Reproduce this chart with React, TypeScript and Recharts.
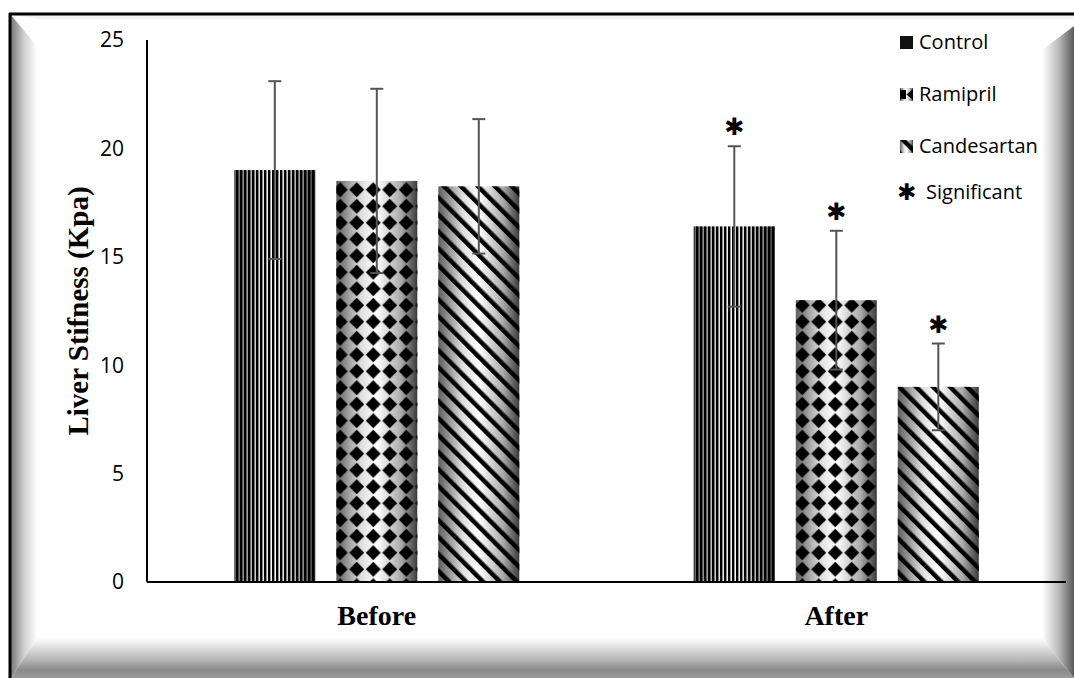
import React from 'react';
import { BarChart, Bar, XAxis, YAxis, ErrorBar, Legend, LabelList } from 'recharts';

const categories = ['Before', 'After'];
const controlMean = [19.0, 16.4];
const controlSD = [4.1, 3.7];
const ramiprilMean = [18.5, 13.0];
const ramiprilSD = [4.25, 3.2];
const candesartanMean = [18.25, 9.0];
const candesartanSD = [3.1, 2.0];
const significant = [false, true];
const yTicks = [0, 5, 10, 15, 20, 25];

const data = categories.map((c, i) => ({
  name: c,
  control: controlMean[i],
  controlErr: controlSD[i],
  ramipril: ramiprilMean[i],
  ramiprilErr: ramiprilSD[i],
  candesartan: candesartanMean[i],
  candesartanErr: candesartanSD[i],
}));

const W = 1074;
const H = 678;

const makeShape = (patId: string) => (props: any) => {
  const { x, y, width, height } = props;
  if (!height || height <= 0) return <g />;
  return (
    <g>
      <rect x={x} y={y} width={width} height={height} fill="url(#metal)" />
      <rect x={x} y={y} width={width} height={height} fill={`url(#${patId})`} />
    </g>
  );
};

const makeStar = (errKey: string) => (props: any) => {
  const { x, y, width, height, value, index } = props;
  if (!significant[index]) return null;
  const err = (data[index] as any)[errKey];
  const pxPerUnit = height / value;
  const cy = y - err * pxPerUnit - 19;
  return (
    <text
      x={x + width / 2}
      y={cy}
      textAnchor="middle"
      dominantBaseline="central"
      fontFamily="DejaVu Sans"
      fontWeight="bold"
      fontSize={24}
      fill="#000"
    >
      ✱
    </text>
  );
};

const legendItems = [
  { label: 'Control', pat: 'patControlIcon', top: 42 },
  { label: 'Ramipril', pat: 'patRamiprilIcon', top: 94 },
  { label: 'Candesartan', pat: 'patCandesartan', top: 146 },
];

const LegendContent = () => (
  <div style={{ position: 'absolute', left: 0, top: 0, width: 170, height: 0, overflow: 'visible', fontFamily: '"Open Sans", sans-serif', fontSize: 20, color: '#000' }}>
    {legendItems.map((it) => (
      <div key={it.label} style={{ position: 'absolute', left: 2, top: it.top - 13, height: 26, display: 'flex', alignItems: 'center', whiteSpace: 'nowrap' }}>
        <svg width={13} height={13} style={{ marginRight: 6 }}>
          <rect x={0} y={0} width={13} height={13} fill="url(#metal)" />
          <rect x={0} y={0} width={13} height={13} fill={`url(#${it.pat})`} />
        </svg>
        <span style={{ lineHeight: '26px' }}>{it.label}</span>
      </div>
    ))}
    <div style={{ position: 'absolute', left: -1, top: 192 - 13, height: 26, display: 'flex', alignItems: 'center', whiteSpace: 'nowrap' }}>
      <span style={{ fontFamily: 'DejaVu Sans', fontWeight: 'bold', fontSize: 23, width: 18, marginRight: 11, textAlign: 'center' }}>✱</span>
      <span style={{ lineHeight: '26px' }}>Significant</span>
    </div>
  </div>
);

const Frame = () => (
  <svg width={W} height={H} style={{ position: 'absolute', left: 0, top: 0 }}>
    <defs>
      <linearGradient id="bevL" x1="0" y1="0" x2="1" y2="0">
        <stop offset="0" stopColor="#7a7a7a" />
        <stop offset="0.5" stopColor="#cfcfcf" />
        <stop offset="1" stopColor="#ffffff" />
      </linearGradient>
      <linearGradient id="bevR" x1="0" y1="0" x2="1" y2="0">
        <stop offset="0" stopColor="#ffffff" />
        <stop offset="0.5" stopColor="#bdbdbd" />
        <stop offset="1" stopColor="#5a5a5a" />
      </linearGradient>
      <linearGradient id="bevB" x1="0" y1="0" x2="0" y2="1">
        <stop offset="0" stopColor="#ffffff" />
        <stop offset="0.55" stopColor="#b5b5b5" />
        <stop offset="0.8" stopColor="#8a8a8a" />
        <stop offset="1" stopColor="#9a9a9a" />
      </linearGradient>
    </defs>
    <rect x={0} y={0} width={W} height={H} fill="#fff" />
    <polygon points="11,15 37,46 37,638 11,678" fill="url(#bevL)" />
    <polygon points="11,678 37,638 1042,638 1074,678" fill="url(#bevB)" />
    <polygon points="1074,26 1042,50 1042,638 1074,678" fill="url(#bevR)" />
    <polygon points="11,15 1074,15 1074,19 37,19" fill="#f2f2f2" />
    <line x1={9} y1={14} x2={1074} y2={14} stroke="#000" strokeWidth={3} />
    <line x1={10} y1={13} x2={10} y2={678} stroke="#000" strokeWidth={3} />
  </svg>
);

export default function App() {
  return (
    <div style={{ position: 'absolute', left: 0, top: 0, width: W, height: H, background: '#fff' }}>
      <Frame />
      <div style={{ position: 'absolute', left: 0, top: 0 }}>
        <BarChart
          width={W}
          height={H}
          data={data}
          margin={{ top: 40, right: 8, bottom: 36, left: 0 }}
          barCategoryGap="19%"
          barGap={21}
        >
          <defs>
            <linearGradient id="metal" x1="0" y1="0" x2="1" y2="0">
              <stop offset="0" stopColor="#5e5e5e" />
              <stop offset="0.3" stopColor="#dddddd" />
              <stop offset="0.5" stopColor="#ffffff" />
              <stop offset="0.8" stopColor="#aaaaaa" />
              <stop offset="1" stopColor="#3a3a3a" />
            </linearGradient>
            <pattern id="patControl" patternUnits="userSpaceOnUse" width={4} height={4}>
              <rect x={0} y={0} width={2.4} height={4} fill="#000" />
            </pattern>
            <pattern id="patControlIcon" patternUnits="userSpaceOnUse" width={4} height={4}>
              <rect x={0} y={0} width={4} height={4} fill="#111" />
            </pattern>
            <pattern id="patRamipril" patternUnits="userSpaceOnUse" width={16.5} height={16.5} x={2} y={0}>
              <polygon points="8.25,0.8 15.7,8.25 8.25,15.7 0.8,8.25" fill="#000" />
            </pattern>
            <pattern id="patRamiprilIcon" patternUnits="userSpaceOnUse" width={13} height={13}>
              <polygon points="0,1 6.5,6.5 0,12" fill="#000" />
              <polygon points="13,1 6.5,6.5 13,12" fill="#000" />
              <rect x={2} y={2} width={4} height={9} fill="#000" />
            </pattern>
            <pattern id="patCandesartan" patternUnits="userSpaceOnUse" width={12} height={12} patternTransform="rotate(-45)">
              <rect x={0} y={0} width={4.5} height={12} fill="#000" />
            </pattern>
          </defs>
          <XAxis
            dataKey="name"
            height={60}
            axisLine={{ stroke: '#000', strokeWidth: 2 }}
            tickLine={false}
            tickSize={0}
            tickMargin={23}
            tick={{ fill: '#000', fontFamily: '"Liberation Serif", serif', fontWeight: 'bold', fontSize: 28 }}
          />
          <YAxis
            domain={[0, 25]}
            ticks={yTicks}
            width={147}
            axisLine={{ stroke: '#000', strokeWidth: 2 }}
            tickLine={false}
            tickSize={0}
            tickMargin={23}
            tick={{ fill: '#000', fontFamily: '"Open Sans", sans-serif', fontSize: 21 }}
            label={{
              value: 'Liver Stifness (Kpa)',
              angle: -90,
              position: 'center',
              dx: 4,
              style: { fill: '#000', fontFamily: '"Liberation Serif", serif', fontWeight: 'bold', fontSize: 29, textAnchor: 'middle' },
            }}
          />
          <Legend
            verticalAlign="top"
            align="right"
            layout="vertical"
            wrapperStyle={{ position: 'absolute', top: 0, left: 898, width: 0, height: 0, overflow: 'visible' }}
            content={LegendContent}
          />
          <Bar dataKey="control" name="Control" isAnimationActive={false} shape={makeShape('patControl')}>
            <ErrorBar dataKey="controlErr" stroke="#555" strokeWidth={2} width={6.5} />
            <LabelList dataKey="control" content={makeStar('controlErr')} />
          </Bar>
          <Bar dataKey="ramipril" name="Ramipril" isAnimationActive={false} shape={makeShape('patRamipril')}>
            <ErrorBar dataKey="ramiprilErr" stroke="#555" strokeWidth={2} width={6.5} />
            <LabelList dataKey="ramipril" content={makeStar('ramiprilErr')} />
          </Bar>
          <Bar dataKey="candesartan" name="Candesartan" isAnimationActive={false} shape={makeShape('patCandesartan')}>
            <ErrorBar dataKey="candesartanErr" stroke="#555" strokeWidth={2} width={6.5} />
            <LabelList dataKey="candesartan" content={makeStar('candesartanErr')} />
          </Bar>
        </BarChart>
      </div>
    </div>
  );
}
